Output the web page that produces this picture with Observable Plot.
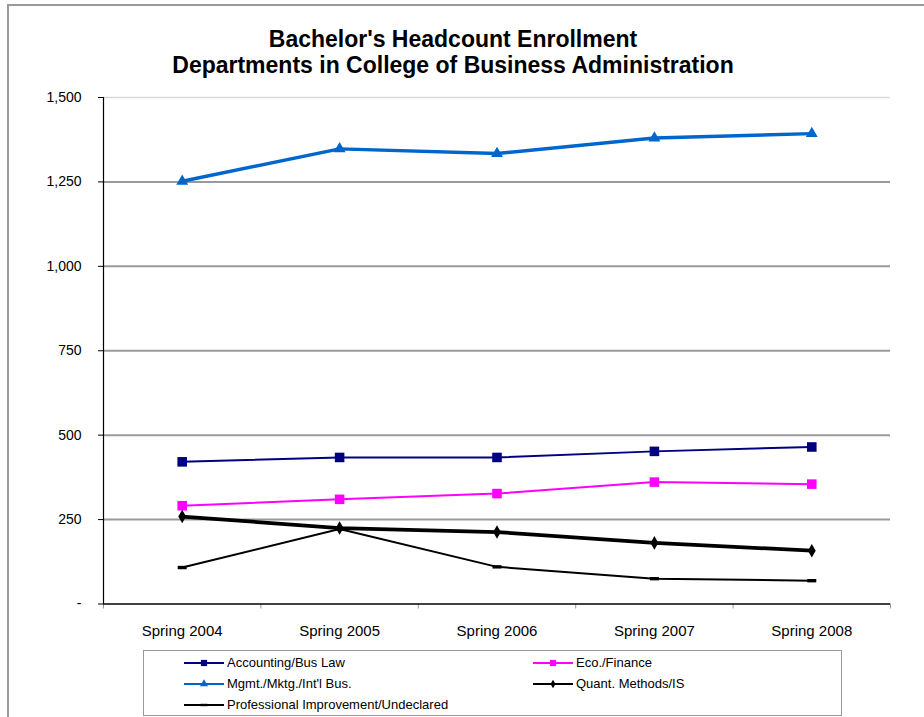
<!DOCTYPE html>
<html>
<head>
<meta charset="utf-8">
<script src="https://cdn.jsdelivr.net/npm/d3@7"></script>
<script src="https://cdn.jsdelivr.net/npm/@observablehq/plot@0.6"></script>
<style>
  html, body { margin: 0; padding: 0; background: #fff; }
  #wrap { position: relative; width: 924px; height: 717px; overflow: hidden; font-family: "Liberation Sans", Arial, sans-serif; }
  #frameL { position: absolute; left: 7px; top: 4px; width: 2px; height: 720px; background: #999; }
  #frameT { position: absolute; left: 7px; top: 4px; width: 930px; height: 2px; background: #999; }
  #title { position: absolute; left: 0; top: 26px; width: 906px; text-align: center; font-weight: bold; font-size: 23px; line-height: 26px; color: #000; }
  #chart { position: absolute; left: 0; top: 0; }
  #chart g[aria-label^="y-axis"] { font-size: 14px; }
  #legend { position: absolute; left: 143px; top: 650px; width: 697px; height: 64px; border: 1px solid #999; background: #fff; }
  .item { position: absolute; height: 14px; font-size: 13px; line-height: 14px; white-space: nowrap; color: #000; }
  .item svg { position: absolute; left: 0; top: -3px; }
  .item span { position: absolute; left: 43px; top: 0; }
</style>
</head>
<body>
<div id="wrap">
  <div id="frameL"></div>
  <div id="frameT"></div>
  <div id="chart"></div>
  <div id="title">Bachelor's Headcount Enrollment<br>Departments in College of Business Administration</div>
  <div id="legend"></div>
</div>
<script>
// ---- data ----
const categories = ["Spring 2004", "Spring 2005", "Spring 2006", "Spring 2007", "Spring 2008"];
const accounting = [421, 434, 434, 452, 465];
const ecoFinance = [291, 310, 327, 361, 355];
const mgmt = [1252, 1348, 1334, 1380, 1393];
const quant = [259, 225, 213, 181, 158];
const profImprovement = [108, 222, 110, 75, 69];
const yTicks = [0, 250, 500, 750, 1000, 1250, 1500];
const seriesNames = ["Accounting/Bus Law", "Eco./Finance", "Mgmt./Mktg./Int'l Bus.", "Quant. Methods/IS", "Professional Improvement/Undeclared"];

// ---- styles ----
const dash = { draw(ctx) { ctx.moveTo(-4.5, -1.7); ctx.lineTo(4.5, -1.7); ctx.lineTo(4.5, 1.7); ctx.lineTo(-4.5, 1.7); ctx.closePath(); } };
const styles = [
  { color: "#000080", width: 2, symbol: "square", r: 5.4, lr: 3.5 },
  { color: "#FF00FF", width: 2, symbol: "square", r: 5.4, lr: 3.5 },
  { color: "#0066CC", width: 3.4, symbol: "triangle", r: 4.4, lr: 3 },
  { color: "#000000", width: 3.8, symbol: "diamond", r: 4.1, lr: 2.6 },
  { color: "#000000", width: 2, symbol: dash, r: 3, lr: 2.4 }
];
const valuesList = [accounting, ecoFinance, mgmt, quant, profImprovement];
const series = seriesNames.map((name, s) => ({
  name, ...styles[s],
  data: valuesList[s].map((v, i) => ({ i, v, cat: categories[i] }))
}));

const n = categories.length;
const xDomain = [-0.5, n - 0.5];
const boundaries = d3.range(n + 1).map(k => k - 0.5);
const plotTop = 97, plotBottom = 41.5, H = 645;
const yMax = yTicks[yTicks.length - 1];
const tickUnits = 5 * yMax / (H - plotTop - plotBottom);

const marks = [
  Plot.ruleY(yTicks.filter(v => v > 0 && v < yMax), { stroke: "#9a9a9a", strokeWidth: 2 }),
  Plot.ruleY([yMax], { stroke: "#d9d9d9", strokeWidth: 1.5 }),
  Plot.ruleX(boundaries, { y1: 0, y2: -tickUnits, stroke: "#999", strokeWidth: 1 }),
  Plot.ruleX([xDomain[0]], { stroke: "#000", strokeWidth: 1.2 }),
  Plot.ruleY([0], { stroke: "#000", strokeWidth: 1.5 })
];
for (const s of series) {
  marks.push(Plot.line(s.data, { x: "i", y: "v", stroke: s.color, strokeWidth: s.width, strokeLinejoin: "round" }));
  marks.push(Plot.dot(s.data, { x: "i", y: "v", symbol: () => s.symbol, r: s.r, fill: s.color, stroke: "none" }));
}

const chart = Plot.plot({
  width: 924,
  height: H,
  marginTop: plotTop,
  marginBottom: plotBottom,
  marginLeft: 103,
  marginRight: 34,
  style: { fontFamily: "'Liberation Sans', Arial, sans-serif", fontSize: "15px", color: "#000", background: "transparent", overflow: "visible" },
  x: { type: "linear", domain: xDomain, ticks: d3.range(n), tickFormat: i => categories[i], tickSize: 0, tickPadding: 21, label: null },
  y: { type: "linear", domain: [0, yMax], ticks: yTicks, tickFormat: d => d === 0 ? "-" : d3.format(",")(d), tickSize: 5, tickPadding: 17, label: null },
  symbol: { type: "identity" },
  marks
});
document.getElementById("chart").appendChild(chart);

// ---- legend ----
const legend = document.getElementById("legend");
const pos = [[40, 5], [389, 5], [40, 26], [389, 26], [40, 47]];
series.forEach((s, k) => {
  const div = document.createElement("div");
  div.className = "item";
  div.style.left = pos[k][0] + "px";
  div.style.top = pos[k][1] + "px";
  const svg = d3.create("svg").attr("width", 40).attr("height", 20);
  svg.append("line").attr("x1", 0).attr("x2", 40).attr("y1", 10).attr("y2", 10)
    .attr("stroke", s.color).attr("stroke-width", Math.min(s.width, 2.2));
  const sym = typeof s.symbol === "string" ? d3.symbol(d3["symbol" + s.symbol[0].toUpperCase() + s.symbol.slice(1)], Math.PI * s.lr * s.lr)() : null;
  if (sym) svg.append("path").attr("d", sym).attr("transform", "translate(20,10)").attr("fill", s.color);
  else svg.append("rect").attr("x", 16.5).attr("y", 8.8).attr("width", 7).attr("height", 2.4).attr("fill", s.color);
  div.appendChild(svg.node());
  const span = document.createElement("span");
  span.textContent = s.name;
  div.appendChild(span);
  legend.appendChild(div);
});
</script>
</body>
</html>
